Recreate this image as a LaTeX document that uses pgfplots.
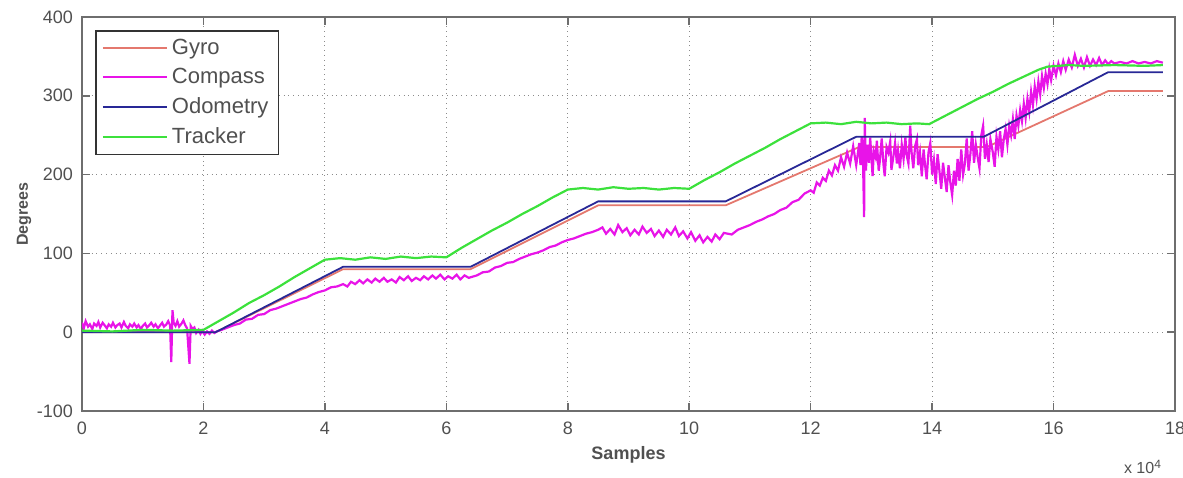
\documentclass[border=0pt]{standalone}
\usepackage{pgfplots}
\pgfplotsset{compat=1.18}
\usepackage{fontspec}
\setmainfont{Liberation Sans}
\definecolor{gyro}{RGB}{228,120,110}
\definecolor{compass}{RGB}{232,20,232}
\definecolor{odo}{RGB}{40,40,150}
\definecolor{tracker}{RGB}{60,225,60}
\definecolor{axgray}{RGB}{110,110,110}
\definecolor{txtgray}{RGB}{80,80,80}
\begin{document}
\begin{tikzpicture}
\begin{axis}[
  scale only axis, width=546.5pt, height=197pt,
  xmin=0, xmax=18, ymin=-100, ymax=400,
  xtick={0,2,...,18}, ytick={-100,0,...,400},
  /pgf/number format/assume math mode=true,
  tick label style={font=\fontsize{9}{10}\selectfont, text=txtgray},
  xticklabel style={yshift=-2pt},
  yticklabel style={xshift=-1pt},
  tick align=inside, major tick length=4pt,
  tick style={axgray, line width=0.8pt},
  axis line style={axgray, line width=0.8pt},
  grid=major, grid style={axgray!80, dotted, line width=0.6pt},
  xlabel={\bfseries Samples}, ylabel={\bfseries Degrees},
  xlabel style={font=\fontsize{9}{10}\selectfont, text=txtgray, yshift=1pt},
  ylabel style={font=\fontsize{8}{9}\selectfont, text=txtgray, yshift=-4pt},
  legend cell align=left,
  legend style={at={(rel axis cs:0.012,0.967)}, anchor=north west,
    draw=black!80, line width=0.8pt, font=\fontsize{11}{12}\selectfont, text=txtgray,
    inner xsep=3pt, inner ysep=2pt, row sep=1.5pt},
  legend image code/.code={\draw[#1, line width=1pt] (0pt,0pt) -- (32pt,0pt);},
]
\addplot[gyro, line width=0.9pt] coordinates {
(0,0) (2.2,0) (4.3,80) (6.4,80) (8.5,161) (10.6,161) (12.8,235) (14.9,235) (16.9,306) (17.8,306)};
\addlegendentry{Gyro}
\addplot[compass, line width=1.1pt] coordinates {
(0.00,12) (0.03,5) (0.06,14) (0.1,7) (0.13,10) (0.17,4) (0.2,11) (0.24,8) (0.27,13) (0.3,6) (0.34,12) (0.37,9) (0.41,5) (0.44,10) (0.48,7) (0.51,12) (0.55,6) (0.58,9) (0.62,11) (0.65,6) (0.69,13) (0.72,8) (0.76,5) (0.79,10) (0.83,7) (0.86,11) (0.9,6) (0.93,9) (0.97,4) (1.0,8) (1.04,11) (1.07,6) (1.11,9) (1.14,12) (1.18,7) (1.21,10) (1.25,5) (1.28,8) (1.32,12) (1.35,7) (1.39,10) (1.42,14) (1.45,9) (1.47,-38) (1.49,28) (1.51,12) (1.54,8) (1.57,14) (1.6,7) (1.64,11) (1.67,15) (1.7,9) (1.73,5) (1.77,-40) (1.79,8) (1.82,4) (1.85,6) (1.88,-1) (1.92,3) (1.95,-2) (1.98,2) (2.02,-3) (2.06,1) (2.1,-2) (2.14,2) (2.18,-1) (2.22,1)
(2.3,3) (2.4,6) (2.5,9) (2.6,11) (2.7,16) (2.8,17) (2.9,22) (3.0,23) (3.1,28) (3.2,30) (3.3,33) (3.4,36) (3.5,39) (3.6,42) (3.7,44) (3.8,48) (3.9,51) (4.0,53) (4.1,57) (4.2,58) (4.3,61)
(4.37,58) (4.43,64) (4.5,61) (4.57,66) (4.63,62) (4.7,67) (4.77,63) (4.83,68) (4.9,64) (4.97,69) (5.03,64) (5.1,67) (5.17,63) (5.23,70) (5.3,66) (5.37,71) (5.43,65) (5.5,69) (5.57,66) (5.63,71) (5.7,67) (5.77,72) (5.83,68) (5.9,73) (5.97,67) (6.03,71) (6.1,68) (6.17,73) (6.23,67) (6.3,72) (6.37,69)
(6.5,72) (6.6,76) (6.7,77) (6.8,82) (6.9,84) (7.0,88) (7.1,89) (7.2,93) (7.3,96) (7.4,99) (7.5,101) (7.6,104) (7.7,108) (7.8,110) (7.9,114) (8.0,117) (8.1,119) (8.2,122) (8.3,125) (8.4,127) (8.5,130)
(8.57,133) (8.63,125) (8.7,131) (8.77,124) (8.83,136) (8.9,127) (8.97,132) (9.03,123) (9.1,130) (9.17,124) (9.23,134) (9.3,126) (9.37,131) (9.43,122) (9.5,129) (9.57,121) (9.63,130) (9.7,124) (9.77,133) (9.83,122) (9.9,128) (9.97,119) (10.03,127) (10.1,116) (10.17,123) (10.23,114) (10.3,121) (10.37,115) (10.43,124) (10.5,118) (10.57,126)
(10.7,124) (10.8,130) (10.9,133) (11.0,136) (11.1,140) (11.2,143) (11.3,147) (11.4,150) (11.5,155) (11.6,158) (11.7,165) (11.8,168) (11.9,176) (12.0,180) (12.05,177) (12.1,190) (12.15,186) (12.2,196) (12.25,192) (12.3,205) (12.35,199) (12.4,212) (12.45,205) (12.5,222) (12.55,210) (12.6,228) (12.65,214) (12.7,236) (12.75,212)
(12.80,240) (12.82,212) (12.84,248) (12.86,225) (12.88,146) (12.89,272) (12.91,205) (12.93,238) (12.96,215) (12.98,247) (13.02,198) (13.04,230) (13.07,222) (13.09,243) (13.12,205) (13.14,218) (13.17,246) (13.20,212) (13.22,198) (13.25,235) (13.28,228) (13.31,242) (13.33,206) (13.36,222) (13.39,240) (13.42,214) (13.44,230) (13.47,208) (13.50,238) (13.53,220) (13.56,247) (13.58,225) (13.61,214) (13.64,262) (13.66,230) (13.69,208) (13.72,236) (13.75,245) (13.77,212) (13.80,228) (13.83,198) (13.86,232) (13.88,215) (13.91,194) (13.94,228) (13.97,240) (14.00,200) (14.03,218) (14.06,188) (14.09,226) (14.12,205) (14.15,182) (14.18,215) (14.21,196) (14.24,178) (14.27,212) (14.30,190) (14.33,174) (14.36,205) (14.39,186) (14.42,220) (14.45,192) (14.48,232) (14.51,200) (14.54,214) (14.57,246) (14.60,205) (14.63,226) (14.66,255) (14.69,215) (14.72,238) (14.75,222) (14.78,208) (14.81,250) (14.84,262) (14.87,220) (14.90,238) (14.93,216) (14.96,245) (15.00,228) (15.03,210) (15.06,248) (15.09,232) (15.12,255) (15.15,222) (15.18,245) (15.21,258) (15.24,238) (15.27,262) (15.30,250) (15.33,270) (15.36,245) (15.39,275) (15.42,262) (15.45,282) (15.48,268) (15.51,290) (15.54,272) (15.57,296) (15.60,280) (15.63,305) (15.66,288) (15.69,312) (15.72,296) (15.75,318) (15.78,302) (15.81,325) (15.84,310) (15.87,328) (15.90,315) (15.93,334) (15.96,320) (16.00,338) (16.04,326) (16.08,341) (16.12,330) (16.16,344) (16.20,333) (16.25,346) (16.30,336) (16.35,352) (16.40,338) (16.45,347) (16.50,336) (16.55,349) (16.60,338) (16.65,346) (16.70,339) (16.75,348) (16.80,339) (16.85,345) (16.90,340) (16.95,344) (17.0,341) (17.1,343) (17.2,341) (17.3,344) (17.4,341) (17.5,343) (17.6,341) (17.7,344) (17.8,342)};
\addlegendentry{Compass}
\addplot[odo, line width=0.9pt] coordinates {
(0,0) (2.2,0) (4.3,83) (6.4,83) (8.5,166) (10.6,166) (12.75,248) (14.85,248) (16.9,330) (17.8,330)};
\addlegendentry{Odometry}
\addplot[tracker, line width=1.1pt] coordinates {
(0,2) (0.5,1) (1.0,3) (1.5,2) (2.0,3) (2.25,14) (2.5,25) (2.75,37) (3.0,47) (3.25,58) (3.5,70) (3.75,81) (4.0,92)
(4.25,94) (4.5,92) (4.75,95) (5.0,93) (5.25,96) (5.5,94) (5.75,96) (6.0,95)
(6.25,107) (6.5,118) (6.75,129) (7.0,139) (7.25,150) (7.5,160) (7.75,171) (8.0,181)
(8.25,183) (8.5,181) (8.75,184) (9.0,182) (9.25,183) (9.5,181) (9.75,183) (10.0,182)
(10.25,193) (10.5,203) (10.75,214) (11.0,224) (11.25,234) (11.5,245) (11.75,255) (12.0,265)
(12.25,266) (12.5,264) (12.75,267) (13.0,265) (13.25,266) (13.5,264) (13.75,265) (13.95,264)
(14.25,276) (14.5,286) (14.75,296) (15.0,305) (15.25,315) (15.5,324) (15.75,333) (15.9,337)
(16.25,339) (16.5,338) (17.0,339) (17.5,338) (17.8,339)};
\addlegendentry{Tracker}
\end{axis}
\node[anchor=east, font=\fontsize{8}{9}\selectfont, text=txtgray] at (543.5pt,-28pt) {x 10\textsuperscript{4}};
\pgfresetboundingbox
\path[use as bounding box] (-41pt,-33pt) rectangle (550.5pt,205.5pt);
\end{tikzpicture}
\end{document}
